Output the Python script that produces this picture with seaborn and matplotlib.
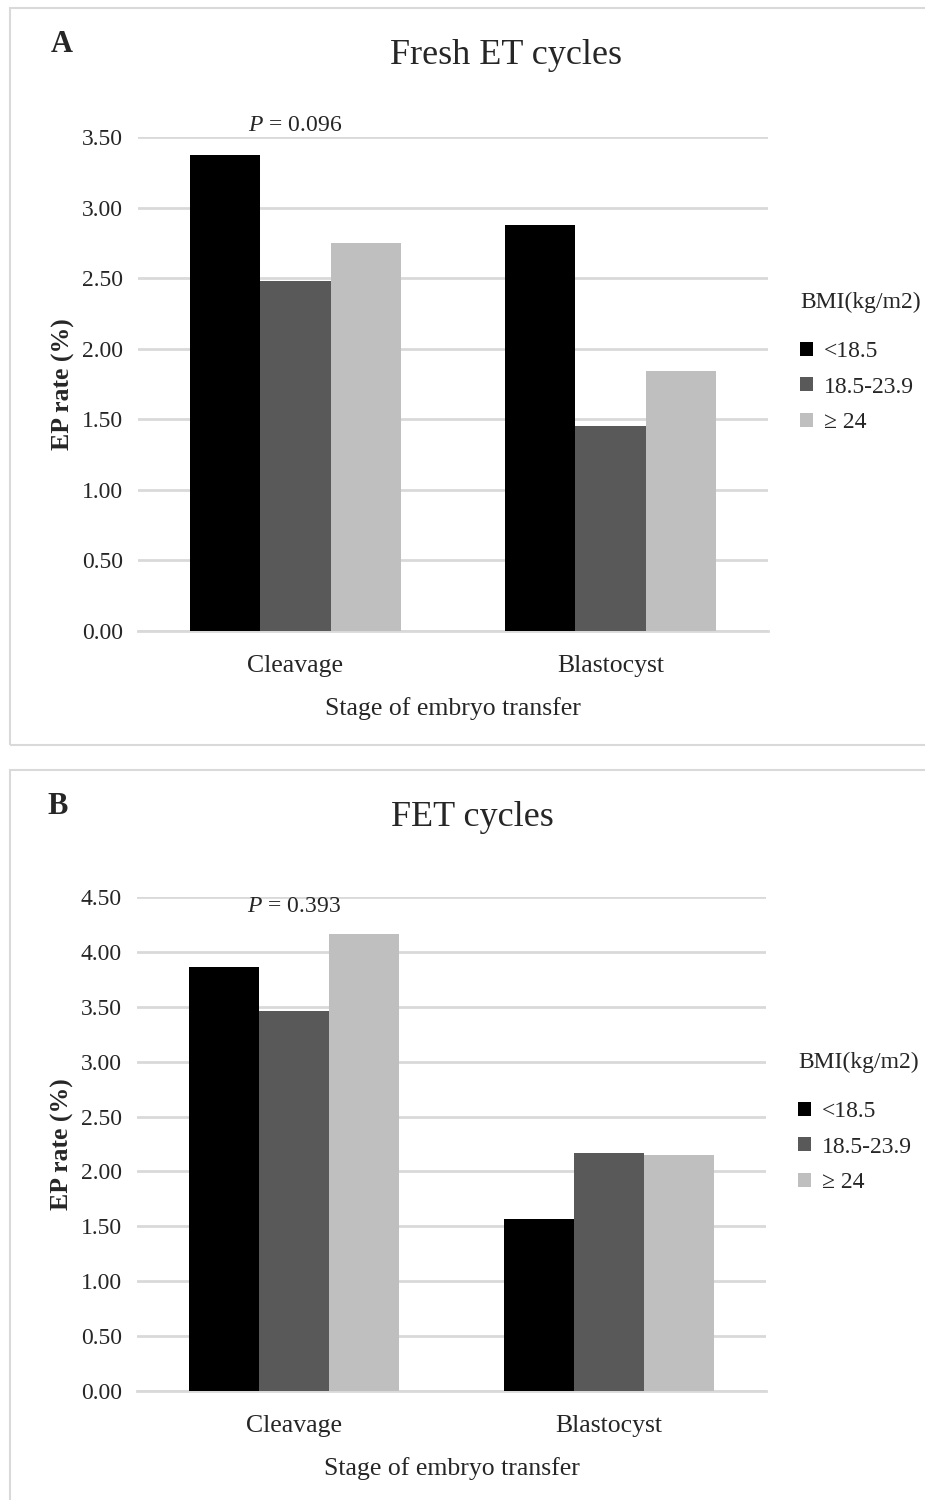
import seaborn as sns
import pandas as pd
import matplotlib.pyplot as plt
from matplotlib.patches import Rectangle

# values
stages = ['Cleavage', 'Blastocyst']
bmi_groups = ['<18.5', '18.5-23.9', '\u2265 24']
fresh_rates = [[3.37, 2.88], [2.48, 1.45], [2.75, 1.84]]   # per BMI group, per stage
fet_rates = [[3.86, 1.57], [3.46, 2.17], [4.16, 2.15]]
bar_colors = ['#000000', '#595959', '#bfbfbf']

sns.set_style('white')
plt.rcParams['font.family'] = ['Liberation Serif', 'DejaVu Serif']
plt.rcParams['mathtext.fontset'] = 'custom'
plt.rcParams['mathtext.it'] = 'Liberation Serif:italic'
plt.rcParams['mathtext.rm'] = 'Liberation Serif'


def make_frame(rates):
    rows = []
    for g, vals in zip(bmi_groups, rates):
        for s, v in zip(stages, vals):
            rows.append({'Stage': s, 'BMI': g, 'rate': v})
    return pd.DataFrame(rows)


fig = plt.figure(figsize=(9.25, 15), dpi=100)

# panel frames
fig.add_artist(Rectangle((10 / 925, 1 - 745 / 1500), 930 / 925, 737 / 1500,
                         transform=fig.transFigure, fill=False,
                         edgecolor='#d9d9d9', linewidth=1.5))
fig.add_artist(Rectangle((10 / 925, 1 - 1510 / 1500), 930 / 925, 740 / 1500,
                         transform=fig.transFigure, fill=False,
                         edgecolor='#d9d9d9', linewidth=1.5))

panels = [
    ('A', 'Fresh ET cycles', fresh_rates, 3.5, '0.096', 3.58,
     [138 / 925, 1 - 631 / 1500, 630 / 925, 494 / 1500], (62, 44), (506, 55)),
    ('B', 'FET cycles', fet_rates, 4.5, '0.393', 4.41,
     [137 / 925, 1 - 1391 / 1500, 629 / 925, 494 / 1500], (58, 807), (472, 818)),
]

for letter, title, rates, ymax, pval, p_y, rect, letter_xy, title_xy in panels:
    ax = fig.add_axes(rect)
    df = make_frame(rates)
    sns.barplot(data=df, x='Stage', y='rate', hue='BMI', hue_order=bmi_groups,
                order=stages, palette=bar_colors, saturation=1, width=0.667,
                linewidth=0, ax=ax, zorder=3)
    ax.set_ylim(0, ymax)
    ax.set_xlim(-0.5, 1.5)
    ticks = [i * 0.5 for i in range(int(ymax / 0.5) + 1)]
    ax.set_yticks(ticks)
    ax.set_yticklabels(['%.2f' % t for t in ticks])
    ax.yaxis.grid(True, color='#d9d9d9', linewidth=2)
    ax.set_axisbelow(True)
    for side in ['top', 'right', 'left']:
        ax.spines[side].set_visible(False)
    ax.spines['bottom'].set_color('#d9d9d9')
    ax.spines['bottom'].set_linewidth(2)
    ax.tick_params(axis='y', length=0, pad=11, labelsize=17)
    ax.tick_params(axis='x', length=0, pad=17, labelsize=18.5)
    ax.set_xlabel('Stage of embryo transfer', fontsize=18.5, labelpad=15)
    ax.set_ylabel('EP rate (%)', fontsize=18.5, fontweight='bold', labelpad=5)

    # legend, Excel style: title on its own, squares below
    leg = ax.legend(loc='upper left', bbox_to_anchor=(1.051, 0.587),
                    frameon=False, fontsize=17, borderpad=0, borderaxespad=0,
                    handlelength=0.55, handleheight=0.55, handletextpad=0.45,
                    labelspacing=0.62)
    ax.text(1.051, 0.666, 'BMI(kg/m2)', transform=ax.transAxes,
            ha='left', va='center', fontsize=17)

    # P value above the cleavage group
    ax.text(0, p_y, r'$\it{P}$ = ' + pval, ha='center', va='center',
            fontsize=17)

    fig.text(letter_xy[0] / 925, 1 - letter_xy[1] / 1500, letter,
             fontsize=22, fontweight='bold', ha='center', va='center')
    fig.text(title_xy[0] / 925, 1 - title_xy[1] / 1500, title,
             fontsize=26, ha='center', va='center')

fig.savefig('out.png', dpi=100)
